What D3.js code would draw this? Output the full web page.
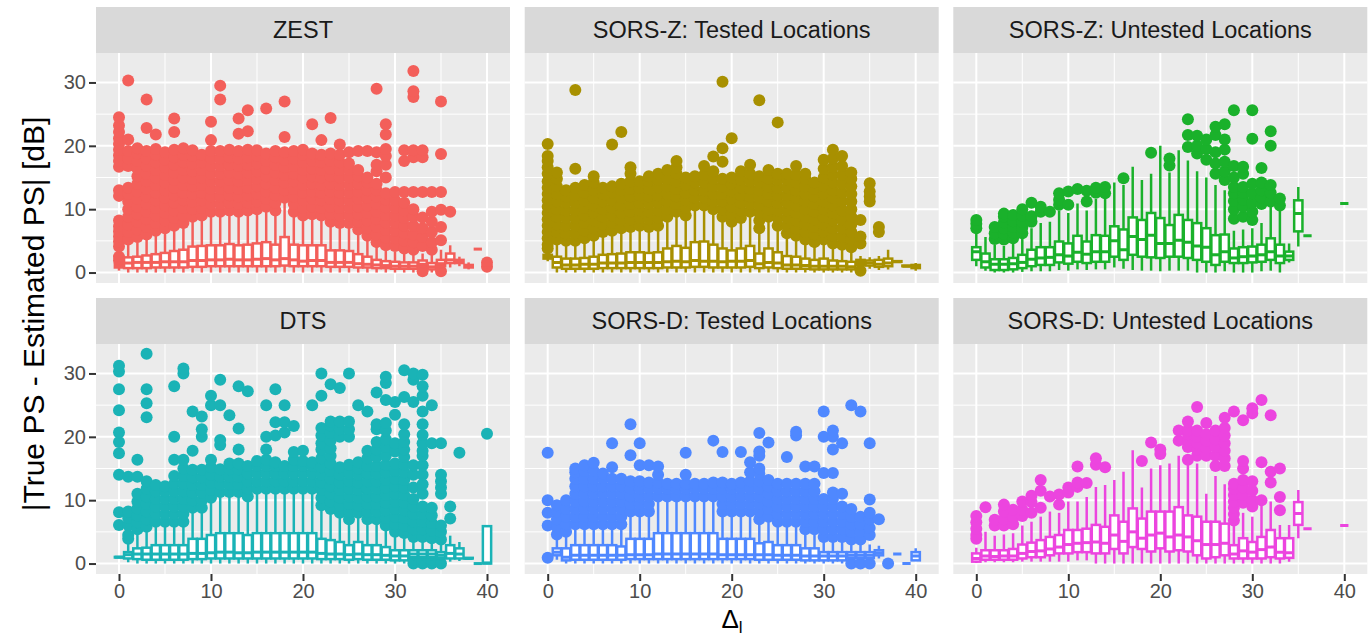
<!DOCTYPE html>
<html><head><meta charset="utf-8">
<script src="https://cdn.jsdelivr.net/npm/d3@7/dist/d3.min.js"></script>
<style>body{margin:0;background:#fff}svg{display:block;font-family:"Liberation Sans",Arial,sans-serif}</style>
</head><body><svg id="c" width="1372" height="643"></svg>
<script>
// ---------------- data ----------------
const panelTitles = ["ZEST","SORS-Z: Tested Locations","SORS-Z: Untested Locations","DTS","SORS-D: Tested Locations","SORS-D: Untested Locations"];
const panelColors = ["#F35F5A","#A89000","#1AB12B","#1AB3B6","#4F88FF","#EC45DF"];
const xTicks = [0,10,20,30,40];
const yTicks = [0,10,20,30];
// box stats per delta (0..40): [lower whisker, q1, median, q3, upper whisker]
const zestBox = [
[0.3,0.8,1.0,1.3,1.8],[0,0.7,1.5,2.4,4.5],[0,0.7,1.6,2.5,4.8],[0,0.7,1.6,2.7,5.2],[0,0.8,1.6,2.9,5.8],
[0,0.8,1.7,3.1,6.2],[0,0.8,1.7,3.4,6.6],[0,0.8,1.7,3.6,7.0],[0,0.9,1.9,4.1,8.0],[0,0.9,1.9,4.2,8.2],
[0,1.0,2.0,4.3,8.8],[0,1.0,2.0,4.3,8.8],[0,1.0,2.1,4.5,9.0],[0,1.0,2.0,4.3,8.8],[0,1.0,2.0,4.4,9.0],
[0,1.0,2.1,4.6,9.2],[0,1.0,2.2,4.8,9.6],[0,1.0,2.0,4.4,9.0],[0,1.1,2.2,5.6,11.0],[0,1.0,2.0,4.4,8.8],
[0,1.0,1.8,4.3,8.2],[0,1.0,1.9,4.3,8.4],[0,1.0,1.9,4.3,8.2],[0,0.9,1.6,3.5,7.2],[0,0.9,1.6,3.5,7.0],
[0,0.9,1.6,3.4,7.0],[0,0.8,1.4,2.9,6.0],[0,0.8,1.3,2.5,5.0],[0,0.7,1.2,2.0,4.0],[0,0.7,1.1,1.8,3.5],
[0,0.6,1.0,1.7,3.3],[0,0.6,1.0,1.6,3.0],[0,0.6,1.0,1.6,3.0],[0.7,1.0,1.3,1.9,3.0],[0,0.5,0.9,1.5,2.8],
[0.6,1.0,1.4,2.0,3.6],[0.8,1.5,2.0,3.0,4.3],[1.0,1.5,1.8,2.0,2.5],[0.5,0.8,1.0,1.2,1.6],[3.7,3.7,3.7,3.7,3.7],
[1.2,1.2,1.2,1.2,1.2]];
const zestOut = [
[1.9,2.5,4.1,4.9,5.7,6.5,7.3,8.2,12.1,13.0,16.7,17.6,18.5,19.4,20.3,21.2,22.2,23.2,24.5],
[5.2,6.4,7.6,8.8,10.0,11.2,12.4,13.4,16.8,18.0,19.2,21.0,30.3],
[5.6,6.8,8.0,9.2,10.4,11.6,12.8,14.0,15.2,16.4,17.6,18.8,19.6],
[6.0,7.2,8.4,9.6,10.8,12.0,13.2,14.4,15.6,16.8,18.0,19.2,22.8,27.3],
[6.6,7.8,9.0,10.2,11.4,12.6,13.8,15.0,16.2,17.4,18.6,19.5,21.8],
[7.0,8.2,9.4,10.6,11.8,13.0,14.2,15.4,16.6,17.8,19.0],
[7.4,8.6,9.8,11.0,12.2,13.4,14.6,15.8,17.0,18.2,19.4,22.2,24.3],
[7.8,9.0,10.2,11.4,12.6,13.8,15.0,16.2,17.4,18.6,19.6],
[8.8,10.0,11.2,12.4,13.6,14.8,16.0,17.2,18.4,19.3],
[9.0,10.2,11.4,12.6,13.8,15.0,16.2,17.4,18.6],
[9.6,10.8,12.0,13.2,14.4,15.6,16.8,18.0,19.2,20.9,23.8],
[9.6,10.8,12.0,13.2,14.4,15.6,16.8,18.0,19.2,27.3,29.5],
[9.8,11.0,12.2,13.4,14.6,15.8,17.0,18.2,19.4],
[9.6,10.8,12.0,13.2,14.4,15.6,16.8,18.0,19.2,21.9,24.3],
[9.8,11.0,12.2,13.4,14.6,15.8,17.0,18.2,19.4,22.3,25.6],
[10.0,11.2,12.4,13.6,14.8,16.0,17.2,18.4,19.3],
[10.4,11.6,12.8,14.0,15.2,16.4,17.6,18.8,25.9],
[9.8,11.0,12.2,13.4,14.6,15.8,17.0,18.2,19.2],
[11.8,13.0,14.2,15.4,16.6,17.8,19.0,21.4,27.0],
[9.6,10.8,12.0,13.2,14.4,15.6,16.8,18.0,19.2],
[9.0,10.2,11.4,12.6,13.8,15.0,16.2,17.4,18.6,19.4],
[9.2,10.4,11.6,12.8,14.0,15.2,16.4,17.6,18.8,23.4],
[9.0,10.2,11.4,12.6,13.8,15.0,16.2,17.4,18.6,20.9],
[8.0,9.2,10.4,11.6,12.8,14.0,15.2,16.4,17.6,18.8,24.4],
[7.8,9.0,10.2,11.4,12.6,13.8,15.0,16.2,17.4,18.6,20.2],
[7.8,9.0,10.2,11.4,12.6,13.8,15.0,16.2,17.2,19.0],
[6.8,8.0,9.2,10.4,11.6,12.8,14.0,15.2,16.2,19.2],
[5.8,7.0,8.2,9.4,10.6,11.8,13.0,14.2,15.0,19.2],
[4.8,6.0,7.2,8.4,9.6,10.8,12.0,13.0,14.0,16.0,17.0,19.0,29.0],
[4.3,5.5,6.7,7.9,9.1,10.3,11.5,12.5,15.0,17.0,18.4,19.5,21.8,23.4],
[4.2,5.4,6.6,7.8,9.0,10.2,11.4,12.7],
[3.8,5.0,6.2,7.4,8.6,9.8,11.0,12.7,17.6,19.3],
[3.6,4.8,6.0,7.4,8.8,10.0,12.7,18.2,19.3,27.7,28.6,31.8],
[0.2,4.2,5.6,7.0,8.7,12.7,18.2,19.3],
[3.6,4.8,6.4,8.0,9.6,12.7],
[0.2,5.1,7.2,9.9,12.7,18.7,27.0],
[9.6],[],[],[],[0.9,1.6]];

const sorszTBox = [
[1.8,2.2,2.5,2.8,3.4],[0,0.8,1.6,2.5,4.7],[0,0.6,1.2,2.2,4.5],[0,0.6,1.2,2.2,4.5],[0,0.6,1.3,2.3,4.8],
[0,0.6,1.3,2.5,5.2],[0,0.7,1.5,2.8,5.8],[0,0.7,1.5,2.9,6.0],[0,0.7,1.5,3.0,6.3],[0,0.7,1.6,3.2,6.6],
[0,0.7,1.6,3.2,6.8],[0,0.7,1.6,3.1,6.6],[0,0.7,1.6,3.2,6.8],[0,0.8,1.7,3.8,8.2],[0,0.8,1.8,4.2,9.0],
[0,0.8,1.7,3.9,8.4],[0,0.9,1.9,4.8,10.0],[0,0.9,1.8,4.9,10.0],[0,0.8,1.8,4.4,9.4],[0,0.8,1.7,3.8,8.2],
[0,0.8,1.8,3.5,7.4],[0,0.8,1.8,3.8,8.0],[0,0.9,1.9,4.2,9.0],[0,0.7,1.4,3.0,6.4],[0,0.8,1.6,3.8,8.2],
[0,0.7,1.5,3.2,6.8],[0,0.6,1.2,2.6,5.6],[0,0.6,1.2,2.5,5.2],[0,0.6,1.1,2.2,4.6],[0,0.5,1.0,2.0,4.2],
[0,0.5,1.0,2.2,4.6],[0,0.5,1.0,1.9,4.0],[0,0.5,1.0,1.8,3.8],[0,0.5,0.9,1.7,3.5],[0.8,1.2,1.6,2.0,2.6],
[0.6,1.1,1.5,1.9,2.4],[0.4,0.9,1.3,2.0,2.6],[0.5,1.0,1.5,2.2,3.6],[1.6,1.7,1.7,1.8,1.9],[0.9,1.0,1.0,1.1,1.2],
[0.3,0.7,0.9,1.2,1.5]];
const sorszTOut = [
[3.8,4.4,5.4,6.4,7.4,8.4,9.4,10.4,11.4,12.4,13.4,14.4,15.6,16.6,17.6,18.4,20.3],
[5.2,6.4,7.6,8.8,10.0,11.2,12.4,13.6,14.8,15.8],
[5.0,6.2,7.4,8.6,9.8,11.0,12.0,13.0],
[5.0,6.2,7.4,8.6,9.8,11.0,12.2,13.4,16.4,28.8],
[5.4,6.6,7.8,9.0,10.2,11.4,12.6,13.8],
[5.8,7.0,8.2,9.4,10.6,11.8,13.0,14.2,15.2],
[6.4,7.6,8.8,10.0,11.2,12.4,13.4],
[6.6,7.8,9.0,10.2,11.4,12.6,13.6,20.2],
[7.0,8.2,9.4,10.6,11.8,13.0,14.0,22.2],
[7.2,8.4,9.6,10.8,12.0,13.2,14.4,15.6,16.6],
[7.4,8.6,9.8,11.0,12.2,13.4,14.4],
[7.2,8.4,9.6,10.8,12.0,13.2,14.4,15.2],
[7.4,8.6,9.8,11.0,12.2,13.4,14.6,15.6],
[8.8,10.0,11.2,12.4,13.6,14.8,16.2],
[9.6,10.8,12.0,13.2,14.4,15.6,16.6,17.6],
[9.0,10.2,11.4,12.6,13.8,15.0],
[10.6,11.8,13.0,14.2,15.2],
[10.6,11.8,13.0,14.2,15.4,16.8],
[10.0,11.2,12.4,13.6,14.8,16.0,18.3],
[8.8,10.0,11.2,12.4,13.6,14.8,17.5,19.6,30.1],
[8.0,9.2,10.4,11.6,12.8,14.0,15.0,21.2],
[8.6,9.8,11.0,12.2,13.4,14.6,16.0],
[9.6,10.8,12.0,13.2,14.4,15.6,17.0],
[7.0,8.2,9.4,10.6,11.8,13.0,14.2,15.2,27.2],
[8.8,10.0,11.2,12.4,13.6,14.8,16.2],
[7.4,8.6,9.8,11.0,12.2,13.4,14.6,15.6,23.7],
[6.2,7.4,8.6,9.8,11.0,12.2,13.4,14.6,15.6],
[5.8,7.0,8.2,9.4,10.6,11.8,13.0,14.2,15.4,16.8],
[5.2,6.4,7.6,8.8,10.0,11.2,12.4,13.6,14.8,15.6],
[4.8,6.0,7.2,8.4,9.6,10.8,12.0,13.2,14.2],
[5.2,6.4,7.6,8.8,10.0,11.2,12.4,13.6,15.0,16.4,17.8],
[4.6,5.8,7.0,8.2,9.4,10.6,11.8,13.0,14.2,15.4,16.6,18.0,19.4],
[4.4,5.6,7.0,8.4,9.8,11.2,12.6,14.0,15.4,16.8,18.4],
[4.0,5.2,6.4,7.6,8.8,10.0,11.2,12.4,13.6,14.8,15.8],
[0.3,4.6,5.7,8.3],
[11.2,12.0,12.8,14.1],
[6.4,7.2],[],[],[],[]];

const sorszUBox = [
[1.0,2.0,3.3,4.0,6.2],[0.3,0.8,1.7,3.0,5.6],[0,0.4,1.3,2.1,4.4],[0,0.4,1.3,2.1,4.2],[0,0.5,1.4,2.3,4.6],
[0.1,0.7,1.6,2.8,5.5],[0.2,1.0,2.1,3.6,7.0],[0.2,1.2,2.3,4.0,7.8],[0.2,1.2,2.4,4.0,8.0],[0.4,1.6,2.8,4.9,9.8],
[0.3,1.4,2.6,4.6,9.4],[0.5,1.7,3.2,5.8,10.9],[0.4,1.5,2.9,4.9,9.8],[0.5,1.7,3.3,5.9,11.6],[0.5,1.7,3.3,5.8,11.6],
[0.8,2.5,5.0,7.3,14.2],[0.6,2.0,3.6,6.8,13.8],[0.4,2.8,5.7,8.7,16.7],[0.3,2.5,5.2,8.3,14.6],[0.3,2.4,5.9,9.4,15.6],
[0.2,2.3,4.6,8.6,20.0],[0.3,2.5,4.6,7.5,15.8],[0.3,2.5,5.1,9.1,19.3],[0.3,2.3,4.8,8.3,17.7],[0,2.0,4.2,7.8,16.0],
[0,1.7,4.0,7.0,15.0],[0,1.2,2.8,5.9,13.8],[0.2,1.7,3.3,6.0,13.0],[0,1.5,2.3,3.8,6.6],[0,1.5,2.5,4.0,6.8],
[0,1.6,2.6,4.1,7.0],[0.2,1.7,2.8,4.4,7.8],[0.3,2.0,3.3,5.4,10.5],[0,1.5,2.6,4.4,9.8],[1.6,2.0,2.6,3.3,4.6],
[4.1,6.5,9.3,11.4,13.5],[5.7,5.8,5.8,5.8,5.9],null,null,null,
[10.9,10.9,10.9,10.9,10.9]];
const sorszUOut = [
[7.0,7.7,8.3],[],[5.3,6.2,7.2],[5.2,6.1,7.0,7.9,8.8,9.3],[5.4,6.3,7.2,8.1,9.1],
[6.2,7.1,8.0,9.0,10.0],[8.0,8.9,11.0],[9.6,10.4],[9.6],[10.7,11.5,12.5],
[10.7,12.8],[13.2],[11.2,12.9],[12.6,13.4],[12.5,13.5],
[],[14.9],[],[],[18.9],
[],[16.9,18.0],[],[19.8,21.7,24.2],[18.8,20.0,21.6],
[17.8,19.5,21.0],[15.6,17.2,19.0,21.7,23.0],[14.6,16.0,17.5,19.4,21.0,23.4],[8.5,10.0,11.3,12.5,13.5,15.0,16.8,25.6],[8.8,10.4,11.5,12.6,13.5,15.6,16.7],
[8.3,9.6,11.0,12.5,14.0,21.1,25.6],[10.8,11.8,13.0,14.2,16.5],[11.2,12.6,13.8,20.0,22.3],[10.6,11.7],[],
[],[],[],[],[],[]];

const dtsBox = [
[0.9,0.95,1.0,1.05,1.1],[0.2,0.8,1.4,1.8,3.2],[0,0.7,1.5,2.4,4.6],[0,0.6,1.5,2.5,5.0],[0,0.6,1.5,2.9,5.8],
[0,0.6,1.5,2.9,5.8],[0,0.6,1.5,2.9,5.8],[0,0.6,1.5,2.9,5.8],[0,0.7,1.6,3.9,8.0],[0,0.7,1.6,3.9,8.0],
[0,0.8,1.7,4.5,9.6],[0,0.8,1.8,4.8,10.5],[0,0.8,1.8,4.8,10.5],[0,0.8,1.7,4.8,10.5],[0,0.8,1.7,4.5,9.8],
[0,0.8,1.8,4.8,11.0],[0,0.8,1.8,4.8,11.0],[0,0.8,1.8,4.8,11.0],[0,0.8,1.8,4.8,11.0],[0,0.8,1.8,4.8,11.0],
[0,0.8,1.8,4.8,11.0],[0,0.8,1.8,4.8,11.0],[0,0.7,1.6,3.9,8.4],[0,0.7,1.5,3.7,7.8],[0,0.7,1.5,3.4,7.2],
[0,0.6,1.4,2.9,6.2],[0,0.7,1.5,3.4,7.2],[0,0.6,1.4,2.9,6.2],[0,0.6,1.4,2.9,6.2],[0,0.6,1.3,2.6,5.5],
[0,0.5,1.2,2.1,4.5],[0,0.5,1.2,2.1,4.5],[0.5,1.0,1.5,2.1,3.5],[0.5,1.0,1.5,2.1,3.5],[0.5,1.0,1.5,2.1,3.5],
[0.5,0.9,1.3,1.8,3.0],[0.3,0.8,1.6,2.9,4.4],[0.4,0.8,1.5,2.4,3.4],[0.7,0.8,0.8,0.9,1.0],[0,0,0,0,0.1],
[0,0,0.1,5.9,5.9]];
const dtsOut = [
[6.1,8.1,14.0,17.4,19.2,20.7,24.2,27.5,30.3,31.2],
[3.9,4.5,6.1,7.2,8.2,13.7],
[5.4,6.5,7.6,8.7,9.8,11.0,13.7,16.4],
[5.8,7.0,8.2,9.4,10.6,11.8,13.0,23.1,25.3,27.5,33.1],
[6.6,7.8,9.0,10.2,11.4,12.4],
[6.6,7.8,9.0,10.2,11.4,12.2],
[6.6,7.8,9.0,10.2,11.4,12.6,13.8,16.4,20.0,28.0],
[6.6,7.8,9.0,10.2,11.4,12.6,13.8,15.0,16.4,30.0,30.8],
[8.8,10.0,11.2,12.4,13.6,14.8,17.8,24.0],
[8.8,10.0,11.2,12.4,13.6,14.8,20.0,21.2,23.2],
[10.4,11.6,12.8,14.0,15.2,16.4,25.0,26.5],
[11.3,12.5,13.7,14.9,18.7,19.5,25.0,29.0],
[11.3,12.5,13.7,14.9,15.8,23.4],
[11.3,12.5,13.7,14.9,15.8,18.0,21.3,28.0],
[10.6,11.8,13.0,14.2,15.4,27.2],
[11.8,13.0,14.2,15.4,16.2],
[11.8,13.0,14.2,15.4,16.4,18.0,20.0,25.0],
[11.8,13.0,14.2,15.4,16.0,20.2,22.3,27.5],
[11.8,13.0,14.2,15.4,20.7,22.3,25.0],
[11.8,13.0,14.2,15.4,16.4,17.6,21.7],
[11.8,13.0,14.2,15.4,16.2,17.8],
[11.8,13.0,14.2,15.4,16.0,25.0],
[9.2,10.4,11.6,12.8,14.0,15.2,16.6,18.0,19.0,20.2,21.4,26.5,30.0],
[8.6,9.8,11.0,12.2,13.4,14.6,15.8,17.0,18.2,19.4,20.6,21.8,22.4,28.3],
[8.0,9.2,10.4,11.6,12.8,14.0,15.2,20.0,21.2,22.4,27.7],
[7.0,8.2,9.4,10.6,11.8,13.0,14.2,15.6,20.0,21.2,22.4,30.0],
[8.0,9.2,10.4,11.6,12.8,14.0,15.0,16.0,25.0],
[7.0,8.2,9.4,10.6,11.8,13.0,14.2,15.4,16.6,17.8,24.0],
[7.0,8.2,9.4,10.6,11.8,13.0,14.2,15.4,16.8,18.0,19.2,21.2,22.0,27.0],
[6.0,7.2,8.4,9.6,10.8,12.0,13.2,14.4,15.6,17.0,18.4,19.6,21.0,22.2,25.8,28.5,29.5],
[5.0,6.2,7.4,8.6,9.8,11.0,12.2,13.4,14.6,15.8,17.7,19.0,23.5,25.5],
[4.8,6.0,7.2,8.4,9.6,10.8,12.0,13.2,14.4,15.6,16.8,18.0,19.2,20.4,22.0,26.3,30.5],
[0.0,0.6,4.2,5.4,6.6,7.8,9.0,10.2,12.0,14.0,15.5,25.5,29.0,30.0],
[0.0,0.6,4.2,5.4,6.6,7.8,9.0,11.0,12.5,14.0,15.5,17.0,17.8,19.0,20.3,22.0,24.0,26.5,28.0,29.8],
[0.0,0.6,4.0,5.2,6.4,7.6,8.8,19.0,25.0],
[0.0,3.8,5.0,6.0,11.0,12.0,13.0,14.0,19.0],
[7.1,9.0],[17.5],[],[],[20.5]];

const sorsdTBox = [
[0.95,0.95,0.95,0.95,0.95],[0.6,1.3,1.8,2.4,4.0],[0,0.5,1.0,2.4,4.6],[0,0.6,1.3,2.9,5.6],[0,0.6,1.3,2.9,5.6],
[0,0.6,1.3,2.9,5.6],[0,0.6,1.3,2.9,5.6],[0,0.6,1.3,2.9,5.6],[0,0.6,1.3,2.7,5.4],[0,0.7,1.4,3.9,7.6],
[0,0.7,1.4,3.9,7.6],[0,0.7,1.4,3.9,7.6],[0,0.7,1.5,4.8,10.0],[0,0.7,1.5,4.8,10.0],[0,0.7,1.5,4.8,10.0],
[0,0.7,1.5,4.8,10.0],[0,0.7,1.5,4.8,10.0],[0,0.7,1.5,4.8,10.0],[0,0.7,1.5,4.8,10.0],[0,0.7,1.4,3.9,7.6],
[0,0.7,1.4,3.9,7.6],[0,0.7,1.4,3.9,7.6],[0,0.7,1.4,3.9,7.6],[0,0.6,1.4,3.2,6.4],[0,0.6,1.4,3.4,6.8],
[0,0.6,1.3,2.9,6.0],[0,0.6,1.3,2.9,6.0],[0,0.6,1.3,2.9,6.0],[0,0.5,1.2,2.4,4.8],[0,0.5,1.2,2.4,4.8],
[0,0.5,1.2,1.8,3.6],[0,0.5,1.2,1.8,3.6],[0,0.5,1.2,1.8,3.6],[0.6,0.9,1.3,1.8,3.0],[0.6,0.9,1.3,1.8,3.0],
[0.6,0.9,1.3,1.8,3.0],[0.8,1.3,1.7,2.1,2.8],[0.3,0.3,0.3,0.3,0.3],[1.5,1.5,1.5,1.5,1.5],[0,0,0,0,0],
[0.4,0.5,1.2,1.8,2.4]];
const sorsdTOut = [
[0.9,6.0,8.0,10.0,17.5],
[4.6,5.8,7.0,8.2,9.2],
[5.0,6.2,7.4,8.6,10.0],
[6.2,7.4,8.6,9.8,11.0,12.2,13.4,14.4,15.0],
[6.2,7.4,8.6,9.8,11.0,12.2,13.4,14.6,15.5],
[6.2,7.4,8.6,9.8,11.0,12.2,13.4,14.6,15.9],
[6.2,7.4,8.6,9.8,11.0,12.2,13.4,14.2],
[6.2,7.4,8.6,9.8,11.0,12.2,13.4,15.2,19.0],
[6.2,7.4,8.6,9.8,11.0,12.2,13.4],
[8.2,9.4,10.6,11.8,13.0,17.1,22.0],
[8.2,9.4,10.6,11.8,13.0,15.5,19.0],
[8.2,9.4,10.6,11.8,12.8,15.5],
[10.6,11.8,12.8,14.0,15.3],
[10.6,11.8,12.6],
[10.6,11.8,12.6],
[10.6,11.8,12.6,14.0,17.5],
[10.6,11.8,12.6],
[10.6,11.8,12.6],
[10.6,11.8,12.8,19.4],
[8.2,9.4,10.6,11.8,12.8,17.6],
[8.2,9.4,10.6,11.8,12.6],
[8.2,9.4,10.6,11.8,12.8,17.6],
[8.2,9.4,10.6,11.8,13.0,14.4,16.0],
[7.0,8.2,9.4,10.6,11.8,13.0,14.2,15.0,17.0,17.7,20.6],
[7.4,8.6,9.8,11.0,12.2,13.2,19.1],
[6.6,7.8,9.0,10.2,11.4,12.6],
[6.6,7.8,9.0,10.2,11.4,12.6,16.8],
[6.6,7.8,9.0,10.2,11.4,12.6,20.2,20.8],
[5.4,6.6,7.8,9.0,10.2,11.4,12.6,15.3],
[5.4,6.6,7.8,9.0,10.2,11.4,12.6,15.3],
[4.2,5.4,6.6,7.8,9.0,10.2,14.3,20.0,24.0],
[4.2,5.4,6.6,7.8,9.0,10.2,11.2,14.3,18.0,20.0,21.0],
[4.2,5.4,6.6,7.8,9.0,11.0,19.0],
[0.0,3.8,5.0,6.2,7.4,8.6,25.0],
[0.0,3.8,5.0,6.2,7.4,24.0],
[0.0,4.5,5.6,7.0,8.0,10.1,19.0],
[7.0],[0.0],[],[],[]];

const sorsdUBox = [
[0.1,0.3,0.8,1.6,2.5],[0.2,0.6,1.2,2.1,5.0],[0.2,0.6,1.1,2.1,4.4],[0.2,0.6,1.2,2.1,4.6],[0.2,0.6,1.2,2.3,4.8],
[0.3,0.8,1.6,3.0,6.0],[0.3,1.0,1.9,3.3,6.6],[0.3,1.0,2.0,3.7,7.4],[0.3,1.3,2.3,4.2,8.2],[0.3,1.6,2.6,4.5,8.0],
[0.3,1.6,3.0,5.3,9.8],[0.5,1.8,3.2,5.3,9.8],[0.5,1.8,3.3,5.5,10.5],[0,1.6,3.4,6.1,12.1],[0,1.6,3.2,5.8,12.4],
[0,2.3,4.5,7.6,13.2],[0,1.6,3.5,6.6,14.5],[0,2.6,5.0,8.7,17.9],[0,2.3,4.0,7.1,12.0],[0,1.9,4.5,8.2,15.0],
[0,2.4,4.8,8.2,15.5],[0,1.9,4.2,8.2,15.8],[0,2.1,4.5,8.9,17.0],[0,1.9,4.2,7.6,16.0],[0,1.3,3.6,7.4,15.8],
[0,0.8,3.0,6.6,11.0],[0,1.0,3.0,6.6,13.8],[0,1.3,3.2,6.3,12.5],[0,0.8,1.5,2.9,6.0],[0,0.8,2.0,4.0,8.0],
[0,0.8,1.8,3.4,7.4],[0,0.8,2.2,4.2,9.5],[0,1.0,2.6,5.3,9.8],[0,0.8,1.8,4.0,6.1],[0.3,0.9,1.7,4.0,6.1],
[4.0,6.1,7.9,9.7,11.6],[5.5,5.5,5.5,5.5,5.5],null,null,null,
[6.0,6.0,6.0,6.0,6.0]];
const sorsdUOut = [
[3.9,4.5,5.5,6.5,7.5],[8.9],[6.0,6.9],[6.0,7.0,8.2,9.3],[6.2,7.3,8.5],
[7.5,8.5,9.8],[8.0,9.7,10.7],[8.8,11.5,13.2],[10.6],[9.3,10.9],
[11.2,12.0],[12.1,12.8,15.3],[12.7],[15.6,16.6],[15.2],
[],[],[],[16.2],[19.1],
[17.3,18.0],[],[19.4,21.0],[16.4,18.4,19.4,20.4,21.0,22.4],[17.0,18.0,19.0,20.0,21.0,24.7],
[17.0,18.2,19.4,20.4,22.2],[15.4,17.0,18.4,19.6,21.0],[15.4,16.6,17.8,19.0,20.2,21.4,23.0],[6.8,7.8,8.8,9.8,10.8,11.8,12.6,24.0],[9.6,10.8,12.0,13.2,15.0,16.2,22.6],
[9.0,10.0,11.5,13.0,23.7,24.5],[10.0,16.0,25.8],[12.8,14.5,23.4],[8.4,10.5,15.0],[],
[],[],[],[],[],[]];

const panelBoxes = [zestBox, sorszTBox, sorszUBox, dtsBox, sorsdTBox, sorsdUBox];
const panelOutliers = [zestOut, sorszTOut, sorszUOut, dtsOut, sorsdTOut, sorsdUOut];

// ---------------- layout ----------------
const svg = d3.select("#c");
svg.append("rect").attr("width",1372).attr("height",643).attr("fill","#fff");
const colX = [96, 524.7, 953.3], PW = 414;
const rowTop = [7, 298], SH = 46, PH = 230;
const x = d3.scaleLinear().domain([-2.5, 42.5]).range([0, PW]);
const y = d3.scaleLinear().domain([-1.65, 34.65]).range([PH, 0]);
const bw = x(0.45) - x(-0.45);
const LW = 2.5;

panelTitles.forEach((title, p) => {
  const col = p % 3, row = Math.floor(p / 3);
  const px = colX[col], sy = rowTop[row], py = sy + SH;
  const color = panelColors[p];
  svg.append("rect").attr("x", px).attr("y", sy).attr("width", PW).attr("height", SH).attr("fill", "#D9D9D9");
  svg.append("text").attr("x", px + PW/2).attr("y", sy + SH/2).attr("dy", "0.36em")
     .attr("text-anchor","middle").attr("font-size", 23.5).attr("fill","#1A1A1A").text(title);
  const g = svg.append("g").attr("transform", `translate(${px},${py})`);
  const cid = "clip" + p;
  g.append("clipPath").attr("id", cid).append("rect").attr("width", PW).attr("height", PH);
  g.append("rect").attr("width", PW).attr("height", PH).attr("fill", "#EBEBEB");
  const grid = g.append("g");
  [5,15,25].forEach(v => grid.append("line").attr("x1",0).attr("x2",PW).attr("y1",y(v)).attr("y2",y(v)).attr("stroke","#fff").attr("stroke-width",1));
  [5,15,25,35].forEach(v => grid.append("line").attr("y1",0).attr("y2",PH).attr("x1",x(v)).attr("x2",x(v)).attr("stroke","#fff").attr("stroke-width",1));
  yTicks.forEach(v => grid.append("line").attr("x1",0).attr("x2",PW).attr("y1",y(v)).attr("y2",y(v)).attr("stroke","#fff").attr("stroke-width",2));
  xTicks.forEach(v => grid.append("line").attr("y1",0).attr("y2",PH).attr("x1",x(v)).attr("x2",x(v)).attr("stroke","#fff").attr("stroke-width",2));

  const marks = g.append("g").attr("clip-path", `url(#${cid})`);
  const boxes = panelBoxes[p], outs = panelOutliers[p];
  boxes.forEach((b, k) => {
    if (!b) return;
    const grp = marks.append("g");
    grp.selectAll("circle").data(outs[k] || []).join("circle")
      .attr("cx", x(k)).attr("cy", d => y(d)).attr("r", 6).attr("fill", color);
    const [lo, q1, med, q3, hi] = b;
    grp.append("line").attr("x1", x(k)).attr("x2", x(k)).attr("y1", y(q3)).attr("y2", y(hi)).attr("stroke", color).attr("stroke-width", LW);
    grp.append("line").attr("x1", x(k)).attr("x2", x(k)).attr("y1", y(q1)).attr("y2", y(lo)).attr("stroke", color).attr("stroke-width", LW);
    grp.append("rect").attr("x", x(k) - bw/2).attr("width", bw).attr("y", y(q3)).attr("height", Math.max(0, y(q1) - y(q3)))
      .attr("fill", "#fff").attr("stroke", color).attr("stroke-width", LW);
    grp.append("line").attr("x1", x(k) - bw/2).attr("x2", x(k) + bw/2).attr("y1", y(med)).attr("y2", y(med)).attr("stroke", color).attr("stroke-width", LW + 0.5);
  });

  if (col === 0) {
    const ax = g.append("g").call(d3.axisLeft(y).tickValues(yTicks).tickSize(7).tickPadding(3).tickFormat(d3.format("d")));
    ax.select(".domain").remove();
    ax.selectAll(".tick line").attr("stroke","#333").attr("stroke-width",2);
    ax.selectAll(".tick text").attr("fill","#4D4D4D").attr("font-size",20).attr("font-family","Liberation Sans, Arial, sans-serif");
  }
  if (row === 1) {
    const ax = g.append("g").attr("transform", `translate(0,${PH})`)
      .call(d3.axisBottom(x).tickValues(xTicks).tickSize(7).tickPadding(3).tickFormat(d3.format("d")));
    ax.select(".domain").remove();
    ax.selectAll(".tick line").attr("stroke","#333").attr("stroke-width",2);
    ax.selectAll(".tick text").attr("fill","#4D4D4D").attr("font-size",20).attr("font-family","Liberation Sans, Arial, sans-serif");
  }
});

// axis titles
svg.append("text").attr("transform","translate(44,314) rotate(-90)").attr("text-anchor","middle")
  .attr("font-size",30).attr("fill","#000").text("|True PS - Estimated PS| [dB]");
const xt = svg.append("text").attr("x",732).attr("y",628).attr("text-anchor","middle").attr("font-size",26).attr("fill","#000");
xt.append("tspan").text("Δ");
xt.append("tspan").attr("font-size",17).attr("dy",5).text("l");
</script></body></html>
